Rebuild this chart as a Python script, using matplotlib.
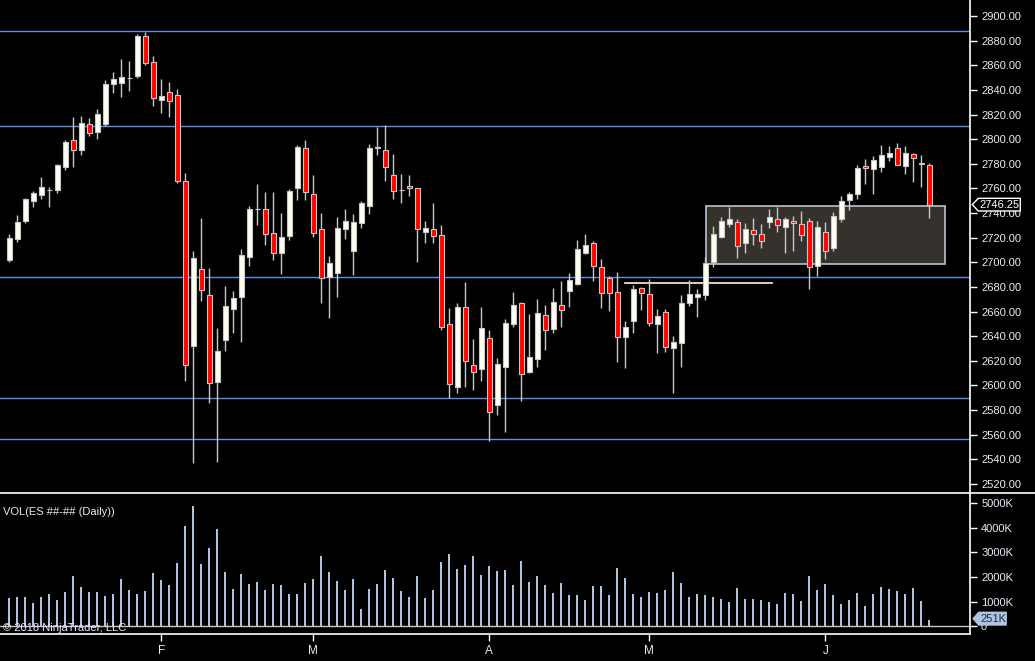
import matplotlib
matplotlib.use("Agg")
import matplotlib.pyplot as plt
from matplotlib.patches import Polygon, Rectangle
import numpy as np

# ---------------- data ----------------
opens = [2701.8, 2718.9, 2733.8, 2750.0, 2754.9, 2758.4, 2759.0, 2777.6, 2799.0, 2791.4,
         2812.0, 2806.1, 2812.6, 2844.5, 2845.9, 2849.4, 2851.5, 2883.8, 2862.6, 2832.0,
         2838.3, 2835.6, 2765.7, 2632.3, 2694.3, 2673.2, 2602.5, 2636.6, 2661.8, 2671.5,
         2704.0, 2743.0, 2743.0, 2723.5, 2707.3, 2721.6, 2760.0, 2792.5, 2755.2, 2726.8,
         2687.8, 2691.6, 2727.3, 2708.9, 2732.2, 2746.0, 2792.8, 2790.9, 2770.6, 2758.4,
         2761.7, 2760.0, 2724.9, 2726.8, 2721.9, 2649.6, 2598.5, 2663.4, 2616.3, 2613.1,
         2638.2, 2584.4, 2615.2, 2649.5, 2666.7, 2610.6, 2621.2, 2657.5, 2646.1, 2665.0,
         2677.0, 2682.6, 2707.8, 2715.4, 2695.9, 2687.0, 2675.6, 2639.0, 2652.0, 2678.8,
         2674.0, 2649.6, 2659.4, 2630.1, 2634.7, 2666.7, 2671.5, 2673.2, 2700.0, 2720.3,
         2730.8, 2732.4, 2715.4, 2725.9, 2722.7, 2732.4, 2734.9, 2728.4, 2733.3, 2730.8,
         2733.3, 2696.7, 2724.3, 2711.3, 2734.9, 2750.3, 2755.2, 2777.9, 2775.5, 2777.1,
         2785.2, 2792.5, 2777.9, 2787.7, 2780.4, 2778.7]
highs = [2722.7, 2738.4, 2751.9, 2757.6, 2769.3, 2760.9, 2779.5, 2799.3, 2818.0, 2818.5,
         2817.2, 2824.5, 2847.8, 2854.5, 2865.1, 2863.5, 2885.4, 2887.3, 2867.5, 2848.8,
         2846.4, 2840.5, 2772.5, 2709.2, 2736.0, 2695.4, 2646.6, 2680.7, 2676.7, 2710.8,
         2745.7, 2763.6, 2757.1, 2757.1, 2740.0, 2759.5, 2795.3, 2799.3, 2770.9, 2740.0,
         2705.1, 2736.8, 2743.3, 2739.2, 2749.8, 2795.8, 2810.1, 2811.5, 2787.9, 2771.7,
         2770.9, 2760.0, 2733.5, 2748.2, 2730.3, 2662.9, 2666.9, 2684.0, 2637.7, 2663.7,
         2645.0, 2622.3, 2653.7, 2675.9, 2667.8, 2658.0, 2670.2, 2665.3, 2678.9, 2684.8,
         2691.0, 2718.1, 2723.0, 2717.0, 2702.4, 2688.9, 2692.1, 2652.3, 2681.3, 2679.9,
         2686.2, 2662.1, 2662.1, 2640.1, 2673.4, 2685.3, 2678.0, 2704.6, 2729.5, 2736.5,
         2745.2, 2734.9, 2731.6, 2735.7, 2730.8, 2743.3, 2745.2, 2736.5, 2737.6, 2741.6,
         2735.9, 2733.3, 2732.7, 2740.6, 2753.8, 2757.1, 2779.0, 2783.9, 2786.3, 2795.0,
         2794.2, 2796.6, 2794.7, 2788.5, 2786.9, 2780.4]
lows = [2700.5, 2716.7, 2732.2, 2745.2, 2751.4, 2745.2, 2756.5, 2774.9, 2777.4, 2787.1,
        2802.5, 2800.4, 2810.7, 2837.7, 2834.5, 2839.4, 2849.9, 2860.5, 2826.9, 2821.2,
        2818.0, 2764.2, 2603.9, 2537.3, 2668.8, 2585.5, 2538.1, 2628.2, 2642.8, 2635.5,
        2697.3, 2730.6, 2714.3, 2702.1, 2690.8, 2718.4, 2750.6, 2750.6, 2720.8, 2667.2,
        2655.0, 2672.1, 2719.2, 2689.9, 2728.1, 2739.5, 2787.4, 2766.3, 2751.7, 2748.4,
        2754.1, 2700.5, 2715.9, 2715.9, 2645.3, 2589.5, 2594.1, 2599.0, 2596.6, 2603.9,
        2555.1, 2576.3, 2562.4, 2647.7, 2587.6, 2610.1, 2615.2, 2629.0, 2642.9, 2647.7,
        2663.7, 2681.6, 2707.0, 2685.1, 2662.9, 2660.7, 2619.3, 2614.4, 2642.9, 2661.5,
        2648.5, 2626.6, 2627.4, 2594.1, 2615.2, 2664.8, 2655.8, 2669.4, 2696.4, 2719.7,
        2728.4, 2703.7, 2707.8, 2714.0, 2711.9, 2728.1, 2724.9, 2707.8, 2709.4, 2717.3,
        2678.6, 2689.1, 2702.9, 2709.4, 2733.0, 2742.5, 2751.4, 2763.6, 2755.5, 2773.3,
        2782.5, 2778.7, 2771.9, 2765.5, 2761.4, 2735.7]
closes = [2719.4, 2732.4, 2751.1, 2756.0, 2760.9, 2759.0, 2778.7, 2797.4, 2791.4, 2812.8,
          2805.2, 2820.1, 2844.5, 2848.6, 2850.2, 2849.9, 2883.8, 2862.1, 2833.7, 2835.0,
          2831.3, 2765.8, 2616.3, 2703.2, 2677.2, 2601.7, 2627.7, 2664.2, 2670.7, 2705.6,
          2743.0, 2743.3, 2722.7, 2707.3, 2720.3, 2757.6, 2793.4, 2756.8, 2723.5, 2687.0,
          2699.2, 2727.6, 2733.3, 2732.4, 2747.9, 2792.5, 2793.4, 2777.1, 2757.6, 2759.0,
          2760.0, 2726.8, 2727.6, 2721.6, 2647.2, 2600.9, 2663.4, 2619.6, 2610.6, 2646.4,
          2578.1, 2617.1, 2650.4, 2665.0, 2609.0, 2622.8, 2658.5, 2644.7, 2667.5, 2661.0,
          2685.3, 2710.5, 2713.8, 2696.7, 2674.8, 2674.8, 2639.0, 2647.7, 2678.0, 2674.8,
          2650.4, 2656.1, 2630.9, 2635.0, 2666.7, 2673.9, 2673.9, 2699.7, 2722.7, 2733.3,
          2734.9, 2712.9, 2726.8, 2722.7, 2717.0, 2736.5, 2730.0, 2734.9, 2731.6, 2721.9,
          2695.9, 2728.4, 2708.9, 2737.3, 2749.8, 2755.4, 2776.3, 2776.6, 2782.8, 2786.9,
          2788.5, 2779.3, 2788.5, 2784.7, 2780.1, 2746.25]
volumes_k = [1149, 1189, 1189, 946, 1189, 1311, 1068, 1392, 2041, 1595,
             1392, 1392, 1230, 1311, 1919, 1473, 1311, 1432, 2162, 1878,
             1676, 2568, 4068, 4878, 2527, 3176, 3946, 2203, 1514, 2122,
             1716, 1797, 1473, 1716, 1676, 1311, 1311, 1757, 1919, 2851,
             2203, 1838, 1473, 1919, 703, 1514, 1716, 2284, 1959, 1432,
             1189, 2041, 1149, 1473, 2608, 2932, 2324, 2486, 2851, 2081,
             2446, 2243, 2284, 1676, 2649, 1797, 2041, 1676, 1351, 1757,
             1270, 1270, 1068, 1635, 1635, 1270, 2365, 1959, 1311, 1189,
             1392, 1351, 1473, 2203, 1757, 1189, 1311, 1270, 1189, 1108,
             986, 1554, 1108, 1108, 1068, 986, 905, 1351, 1311, 1027,
             2041, 1473, 1716, 1270, 905, 1068, 1351, 824, 1311, 1595,
             1514, 1432, 1311, 1554, 1027, 251]
month_labels = ["F", "M", "A", "M", "J"]
month_bar_index = [19, 38, 60, 80, 102]
level_lines = [2887.6, 2810.4, 2687.8, 2589.5, 2556.3]
zone_low, zone_high = 2698.4, 2745.4
zone_start, zone_end = 87.1, 116.9
seg_price, seg_start, seg_end = 2683.0, 76.96, 95.3
last_price_label = "2746.25"
last_vol_label = "251K"

# ---------------- figure ----------------
W, H = 1035, 661
plt.rcParams['font.family'] = ['Liberation Sans', 'DejaVu Sans']
fig = plt.figure(figsize=(W / 100, H / 100), dpi=100, facecolor='black')

def fx(px):
    return px / W

def fy(py):
    return 1 - py / H

AX_R = 970
P_TOP, P_BOT = 0, 493
V_TOP, V_BOT = 493, 634.3
ax = fig.add_axes([0, fy(P_BOT), fx(AX_R), (P_BOT - P_TOP) / H], facecolor='black')
axv = fig.add_axes([0, fy(V_BOT), fx(AX_R), (V_BOT - V_TOP) / H], facecolor='black')

n = len(opens)
x = np.arange(n)
xlim = (-9.33 / 8, (AX_R - 9.33) / 8)

txt_col = '#e6ecf8'
edge_col = '#c8c8c8'

# levels
for lv in level_lines:
    ax.axhline(lv, color='#5f8fe8', lw=1.0, zorder=1)

# zone rectangle
ax.add_patch(Rectangle((zone_start, zone_low), zone_end - zone_start, zone_high - zone_low,
                       facecolor='#35312c', edgecolor='#b8c4d4', lw=1.2, zorder=2))
ax.plot([seg_start, seg_end], [seg_price, seg_price], color='#fff6dc', lw=1.2, zorder=2)

# candles
o = np.array(opens); c = np.array(closes); hi = np.array(highs); lo = np.array(lows)
ax.vlines(x, lo, hi, color=edge_col, lw=1.0, zorder=3)
bottoms = np.minimum(o, c)
heights = np.maximum(np.abs(c - o), 0.6)
fills = ['#fffff2' if cc >= oo else '#ff0000' for oo, cc in zip(o, c)]
ax.bar(x, heights, bottom=bottoms, width=0.6, color=fills, edgecolor=edge_col,
       linewidth=0.8, zorder=4)

ax.set_xlim(*xlim)
ax.set_ylim(2900 - 477 * 0.812, 2900 + 16 * 0.812)
ax.yaxis.tick_right()
ax.set_yticks(np.arange(2520, 2901, 20))
ax.set_yticklabels([f"{v:.2f}" for v in np.arange(2520, 2901, 20)])
ax.tick_params(axis='y', colors='white', labelcolor=txt_col, labelsize=8, length=5,
               width=1, pad=3, direction='out')
ax.set_xticks([])
for s in ['left', 'top', 'bottom']:
    ax.spines[s].set_visible(False)
ax.spines['right'].set_color('white')
ax.spines['right'].set_linewidth(1.2)

# volume
axv.bar(x, volumes_k, width=0.27, color='#b0c4de', zorder=3)
axv.axhline(0, color='#c8c8c8', lw=1.0, zorder=2)
axv.set_xlim(*xlim)
axv.set_ylim(-(V_BOT - 626.3) / 24.67 * 1000, (626.3 - V_TOP) / 24.67 * 1000)
axv.yaxis.tick_right()
vt = [0, 1000, 2000, 3000, 4000, 5000]
axv.set_yticks(vt)
axv.set_yticklabels(["0"] + [f"{v}K" for v in vt[1:]])
axv.tick_params(axis='y', colors='white', labelcolor=txt_col, labelsize=8, length=5,
                width=1, pad=3, direction='out')
axv.set_xticks(month_bar_index)
axv.set_xticklabels(month_labels)
axv.tick_params(axis='x', colors='white', labelcolor=txt_col, labelsize=8.5, length=5,
                width=1, pad=3, direction='out')
axv.spines['left'].set_visible(False)
axv.spines['top'].set_visible(False)
for s in ['right', 'bottom']:
    axv.spines[s].set_color('white')
    axv.spines[s].set_linewidth(1.2)

# separator
fig.add_artist(plt.Line2D([0, 1], [fy(493), fy(493)], transform=fig.transFigure,
                          color='white', lw=1.2))

fig.text(fx(3), fy(512), "VOL(ES ##-## (Daily))", color=txt_col, fontsize=8,
         ha='left', va='center')
fig.text(fx(3), fy(628), "\u00a9 2018 NinjaTrader, LLC", color=txt_col, fontsize=8,
         ha='left', va='center', zorder=10)

# last price marker
def marker(x0, x1, y0, y1, tip, face, edge, text, tcol):
    ym = (y0 + y1) / 2
    pts = [(tip, ym), (x0, y0), (x1, y0), (x1, y1), (x0, y1)]
    fig.add_artist(Polygon([(fx(a), fy(b)) for a, b in pts], closed=True,
                           transform=fig.transFigure, facecolor=face, edgecolor=edge,
                           lw=1.0, zorder=20))
    fig.text(fx((x0 + x1) / 2 + 0.5), fy(ym), text, color=tcol, fontsize=8,
             ha='center', va='center', zorder=21)

marker(978.3, 1020.3, 198.3, 211.0, 972.3, 'black', 'white', last_price_label, 'white')
marker(978.8, 1006.2, 612.3, 625.0, 973.1, '#b0c4de', '#b0c4de', last_vol_label, '#1a2a50')

fig.savefig("out.png", dpi=100, facecolor='black')
